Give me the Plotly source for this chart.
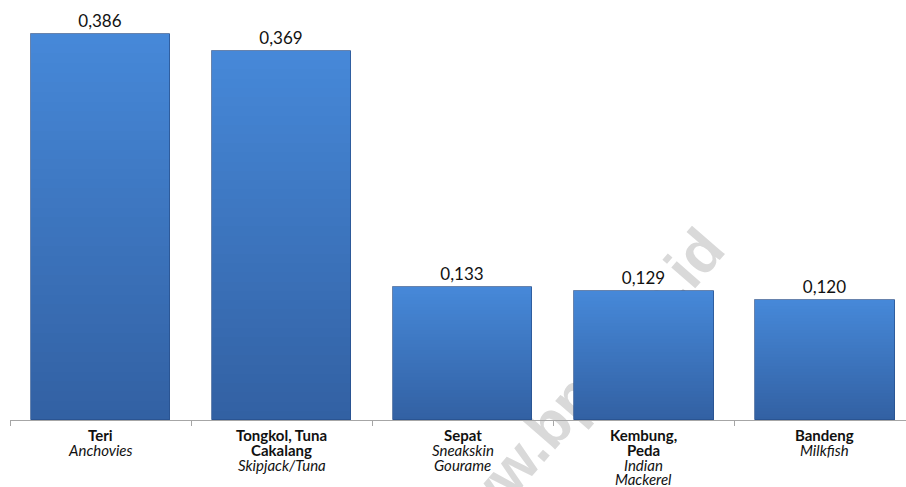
import plotly.graph_objects as go

# Fish species (Indonesian name + English name) and their values
names_id = [["Teri"], ["Tongkol, Tuna", "Cakalang"], ["Sepat"], ["Kembung,", "Peda"], ["Bandeng"]]
names_en = [["Anchovies"], ["Skipjack/Tuna"], ["Sneakskin", "Gourame"], ["Indian", "Mackerel"], ["Milkfish"]]
values = [0.386, 0.369, 0.133, 0.129, 0.120]
value_labels = ["0,386", "0,369", "0,133", "0,129", "0,120"]
categories = ["Teri", "Tongkol, Tuna Cakalang", "Sepat", "Kembung, Peda", "Bandeng"]

TOP = (70, 136, 216)
BOTTOM = (50, 96, 162)
N_LAYERS = 40
BAR_W = 0.773
LINE_STEP = 14.8  # tight line spacing of the category labels


def mix(a, b, t):
    return "rgb(%d,%d,%d)" % tuple(round(a[i] + (b[i] - a[i]) * t) for i in range(3))


fig = go.Figure()

# watermark, on the lower subplot so the bars cover it
fig.add_trace(go.Bar(
    x=[0.629], y=[0.1], base=[0.005], width=[0.05],
    marker=dict(color="rgba(0,0,0,0)", line=dict(width=0)),
    text=["www.bps.go.id"], textposition="inside", insidetextanchor="middle",
    textangle=-49, constraintext="none",
    textfont=dict(family="Liberation Sans", size=60, color="#d9d9d9", weight="bold"),
    cliponaxis=False, hoverinfo="skip", showlegend=False,
    xaxis="x", yaxis="y",
))

# vertical gradient: stacked-over layers, darker towards the base
for k in range(N_LAYERS):
    frac = k / N_LAYERS
    fig.add_trace(go.Bar(
        x=categories, y=[v * (1 - frac) for v in values], width=BAR_W,
        marker=dict(color=mix(TOP, BOTTOM, frac), line=dict(width=0)),
        hoverinfo="skip", showlegend=False, xaxis="x2", yaxis="y2",
    ))

# outline + value labels
fig.add_trace(go.Bar(
    x=categories, y=values, width=BAR_W,
    marker=dict(color="rgba(0,0,0,0)", line=dict(color="rgba(38,78,138,0.7)", width=1)),
    text=value_labels, textposition="outside", cliponaxis=False,
    textfont=dict(family="Lato", size=17, color="#111111"),
    showlegend=False, xaxis="x2", yaxis="y2",
))

# category labels: bold local name, italic English name
annotations = []
for cat, bold_lines, ital_lines in zip(categories, names_id, names_en):
    lines = [(s, True) for s in bold_lines] + [(s, False) for s in ital_lines]
    for i, (s, is_bold) in enumerate(lines):
        annotations.append(dict(
            x=cat, xref="x2", y=0, yref="y2",
            text=f"<b>{s}</b>" if is_bold else f"<i>{s}</i>",
            showarrow=False, xanchor="center", yanchor="middle",
            yshift=-(15 + LINE_STEP * i),
            font=dict(family="Lato", size=15, color="#111111"),
        ))

fig.update_layout(
    width=906, height=487,
    margin=dict(l=10, r=0, t=0, b=67),
    paper_bgcolor="white", plot_bgcolor="rgba(0,0,0,0)",
    barmode="overlay", bargap=0,
    font=dict(family="Lato", color="#111111"),
    annotations=annotations,
    xaxis=dict(domain=[0, 1], range=[0, 1], visible=False, fixedrange=True),
    yaxis=dict(domain=[0, 1], range=[0, 1], visible=False, fixedrange=True),
    xaxis2=dict(
        domain=[0, 1], anchor="y2", type="category", range=[-0.5, 4.45],
        showline=True, linecolor="#a6a6a6", linewidth=1,
        ticks="outside", tickson="boundaries", ticklen=5, tickcolor="#a6a6a6",
        showgrid=False, zeroline=False, showticklabels=False,
    ),
    yaxis2=dict(
        domain=[0, 1], anchor="x2", range=[0, 0.42],
        showline=False, showgrid=False, zeroline=False,
        showticklabels=False, ticks="",
    ),
)

fig.write_html("out.html")
